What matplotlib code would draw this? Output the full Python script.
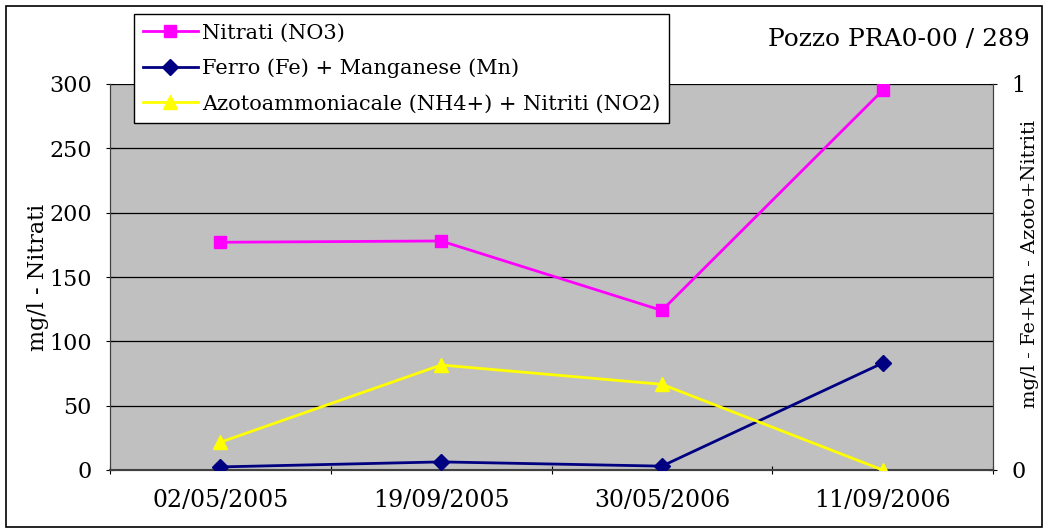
import matplotlib
matplotlib.use('Agg')
import matplotlib.pyplot as plt
from matplotlib.patches import Rectangle

# Data
dates = ['02/05/2005', '19/09/2005', '30/05/2006', '11/09/2006']
nitrati = [177, 178, 124, 295]
ferro_mn = [0.008, 0.021, 0.010, 0.277]
azoto_nitriti = [0.072, 0.272, 0.222, 0.0]

plt.rcParams['font.family'] = 'DejaVu Serif'

fig = plt.figure(figsize=(10.48, 5.28), dpi=100)
ax = fig.add_axes([110 / 1048, 58 / 528, 883 / 1048, 386 / 528])
ax2 = ax.twinx()

x = list(range(len(dates)))
ax.set_facecolor('#C0C0C0')
ax.plot(x, nitrati, color='#FF00FF', marker='s', markersize=9, lw=2,
        label='Nitrati (NO3)', zorder=3)
ax2.plot(x, ferro_mn, color='#000080', marker='D', markersize=8, lw=2,
         label='Ferro (Fe) + Manganese (Mn)', zorder=3)
ax2.plot(x, azoto_nitriti, color='#FFFF00', marker='^', markersize=10, lw=2,
         label='Azotoammoniacale (NH4+) + Nitriti (NO2)', zorder=3)

ax.set_xlim(-0.5, 3.5)
ax.set_ylim(0, 300)
ax2.set_ylim(0, 1)
ax.set_yticks(range(0, 301, 50))
ax2.set_yticks([0, 1])
ax.yaxis.grid(True, color='black', lw=0.9)
ax.set_axisbelow(True)

ax.set_xticks([-0.5, 0.5, 1.5, 2.5, 3.5])
ax.set_xticklabels([])
ax.set_xticks(x, minor=True)
ax.set_xticklabels(dates, minor=True, fontsize=17)
ax.tick_params(axis='x', which='minor', length=0, pad=14)
ax.tick_params(axis='x', which='major', length=6, direction='inout')
ax.tick_params(axis='y', labelsize=16, length=6, direction='inout', pad=10)
ax2.tick_params(axis='y', labelsize=16, length=6, direction='inout', pad=10)

for a in (ax, ax2):
    a.spines['top'].set_visible(False)
    for s in ('left', 'right', 'bottom'):
        a.spines[s].set_color('#404040')
ax.spines['bottom'].set_linewidth(1.5)

ax.set_ylabel('mg/l - Nitrati', fontsize=16, va='center')
ax.yaxis.set_label_coords((38 - 110) / 883, 0.5)
ax2.set_ylabel('mg/l - Fe+Mn - Azoto+Nitriti', fontsize=14, va='center')
ax2.yaxis.set_label_coords((1030 - 110) / 883, 0.535)

fig.text(1030 / 1048, 1 - 40 / 528, 'Pozzo PRA0-00 / 289', fontsize=18,
         ha='right', va='center')

h1, l1 = ax.get_legend_handles_labels()
h2, l2 = ax2.get_legend_handles_labels()
leg = fig.legend(h1 + h2, l1 + l2, loc='upper left',
                 bbox_to_anchor=(134 / 1048, 1 - 14 / 528), fontsize=15,
                 frameon=True, fancybox=False, framealpha=1,
                 edgecolor='black', handlelength=2.6, handletextpad=0.2,
                 borderaxespad=0, borderpad=0.45, labelspacing=0.78)
leg.get_frame().set_linewidth(1.0)

fig.patches.append(Rectangle((6 / 1048, 0.002), 1036 / 1048, 1 - 6 / 528 - 0.002,
                             transform=fig.transFigure, fill=False,
                             edgecolor='black', lw=1.2))

fig.savefig('out.png', dpi=100)
